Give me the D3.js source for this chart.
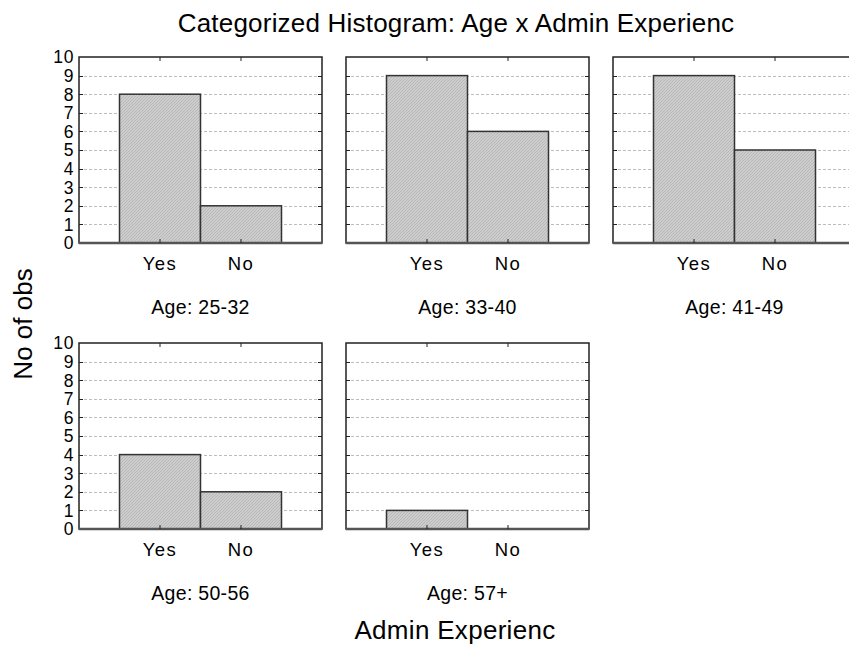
<!DOCTYPE html>
<html>
<head>
<meta charset="utf-8">
<script src="https://cdn.jsdelivr.net/npm/d3@7"></script>
<style>
  html, body { margin: 0; padding: 0; background: #fff; }
  svg { display: block; font-family: "Liberation Sans", Arial, sans-serif; }
</style>
</head>
<body>
<svg id="chart" width="849" height="645"></svg>
<script>
// Admin experience counts per age group
const ageGroups = ["Age: 25-32", "Age: 33-40", "Age: 41-49", "Age: 50-56", "Age: 57+"];
const categories = ["Yes", "No"];
const yesCounts = [8, 9, 9, 4, 1];
const noCounts = [2, 6, 5, 2, 0];
const yTicks = [0, 1, 2, 3, 4, 5, 6, 7, 8, 9, 10];

const svg = d3.select("#chart");

// Fine diagonal hatch used for the bar fill
const defs = svg.append("defs");
const pat = defs.append("pattern")
  .attr("id", "hatch")
  .attr("patternUnits", "userSpaceOnUse")
  .attr("width", 3).attr("height", 3);
pat.append("rect").attr("width", 3).attr("height", 3).attr("fill", "#cdcdcd");
pat.append("path").attr("d", "M0,3 L3,0 M-1,1 L1,-1 M2,4 L4,2")
  .attr("stroke", "#b2b2b2").attr("stroke-width", 0.8);

const panelW = 243, panelH = 186;
const colX = [79, 346, 613];
const rowY = [57, 343];

const y = d3.scaleLinear().domain([0, 10]).range([panelH, 0]);
const x = d3.scaleBand().domain(categories).range([0, panelW]).paddingInner(0).paddingOuter(0.5);

ageGroups.forEach((label, i) => {
  const col = i % 3, row = Math.floor(i / 3);
  const g = svg.append("g").attr("transform", `translate(${colX[col]},${rowY[row]})`);
  const values = [yesCounts[i], noCounts[i]];
  const inner = yTicks.filter(t => t > 0 && t < 10);

  // dotted grid lines
  g.append("g").selectAll("line").data(inner).join("line")
    .attr("x1", 0).attr("x2", panelW)
    .attr("y1", d => Math.round(y(d)) + 0.5).attr("y2", d => Math.round(y(d)) + 0.5)
    .attr("stroke", "#bdbdbd").attr("stroke-width", 1)
    .attr("stroke-dasharray", "3,2");

  // bars
  g.append("g").selectAll("rect").data(categories).join("rect")
    .attr("x", d => x(d))
    .attr("y", (d, j) => y(values[j]))
    .attr("width", x.bandwidth())
    .attr("height", (d, j) => panelH - y(values[j]))
    .attr("fill", "url(#hatch)")
    .attr("stroke", "#333")
    .attr("stroke-width", 1.5);

  // frame
  g.append("rect").attr("x", 0).attr("y", 0).attr("width", panelW).attr("height", panelH)
    .attr("fill", "none").attr("stroke", "#222").attr("stroke-width", 1.5);
  g.append("line").attr("x1", 0).attr("x2", panelW).attr("y1", panelH).attr("y2", panelH)
    .attr("stroke", "#555").attr("stroke-width", 2.5);

  // inward ticks on the left and right edges
  g.append("g").selectAll("line").data(inner).join("line")
    .attr("x1", 0).attr("x2", 4).attr("y1", d => Math.round(y(d)) + 0.5).attr("y2", d => Math.round(y(d)) + 0.5)
    .attr("stroke", "#222");
  g.append("g").selectAll("line").data(inner).join("line")
    .attr("x1", panelW - 4).attr("x2", panelW).attr("y1", d => Math.round(y(d)) + 0.5).attr("y2", d => Math.round(y(d)) + 0.5)
    .attr("stroke", "#222");
  // category ticks on top and bottom edges
  g.append("g").selectAll("line").data(categories).join("line")
    .attr("x1", d => x(d) + x.bandwidth() / 2).attr("x2", d => x(d) + x.bandwidth() / 2)
    .attr("y1", 0).attr("y2", 4).attr("stroke", "#222");
  g.append("g").selectAll("line").data(categories).join("line")
    .attr("x1", d => x(d) + x.bandwidth() / 2).attr("x2", d => x(d) + x.bandwidth() / 2)
    .attr("y1", panelH - 4).attr("y2", panelH).attr("stroke", "#222");

  // y tick labels on the first column
  if (col === 0) {
    g.append("g").selectAll("text").data(yTicks).join("text")
      .attr("x", -5).attr("y", d => y(d))
      .attr("dy", "0.36em")
      .attr("text-anchor", "end")
      .attr("font-size", 17.5)
      .attr("letter-spacing", "0.6px")
      .text(d => d);
  }

  // category labels
  g.append("g").selectAll("text").data(categories).join("text")
    .attr("x", d => x(d) + x.bandwidth() / 2)
    .attr("y", panelH + 27)
    .attr("text-anchor", "middle")
    .attr("font-size", 18.5)
    .attr("letter-spacing", "1.4px")
    .text(d => d);

  // panel caption
  g.append("text")
    .attr("x", panelW / 2).attr("y", panelH + 71)
    .attr("text-anchor", "middle")
    .attr("font-size", 19.5)
    .attr("letter-spacing", "0.3px")
    .text(label);
});

svg.append("text")
  .attr("x", 456).attr("y", 32)
  .attr("text-anchor", "middle")
  .attr("font-size", 26)
  .attr("letter-spacing", "0.2px")
  .text("Categorized Histogram: Age x Admin Experienc");

svg.append("text")
  .attr("x", 455).attr("y", 639)
  .attr("text-anchor", "middle")
  .attr("font-size", 26)
  .attr("letter-spacing", "0.3px")
  .text("Admin Experienc");

svg.append("text")
  .attr("transform", "translate(32,324) rotate(-90)")
  .attr("text-anchor", "middle")
  .attr("font-size", 26)
  .text("No of obs");
</script>
</body>
</html>
